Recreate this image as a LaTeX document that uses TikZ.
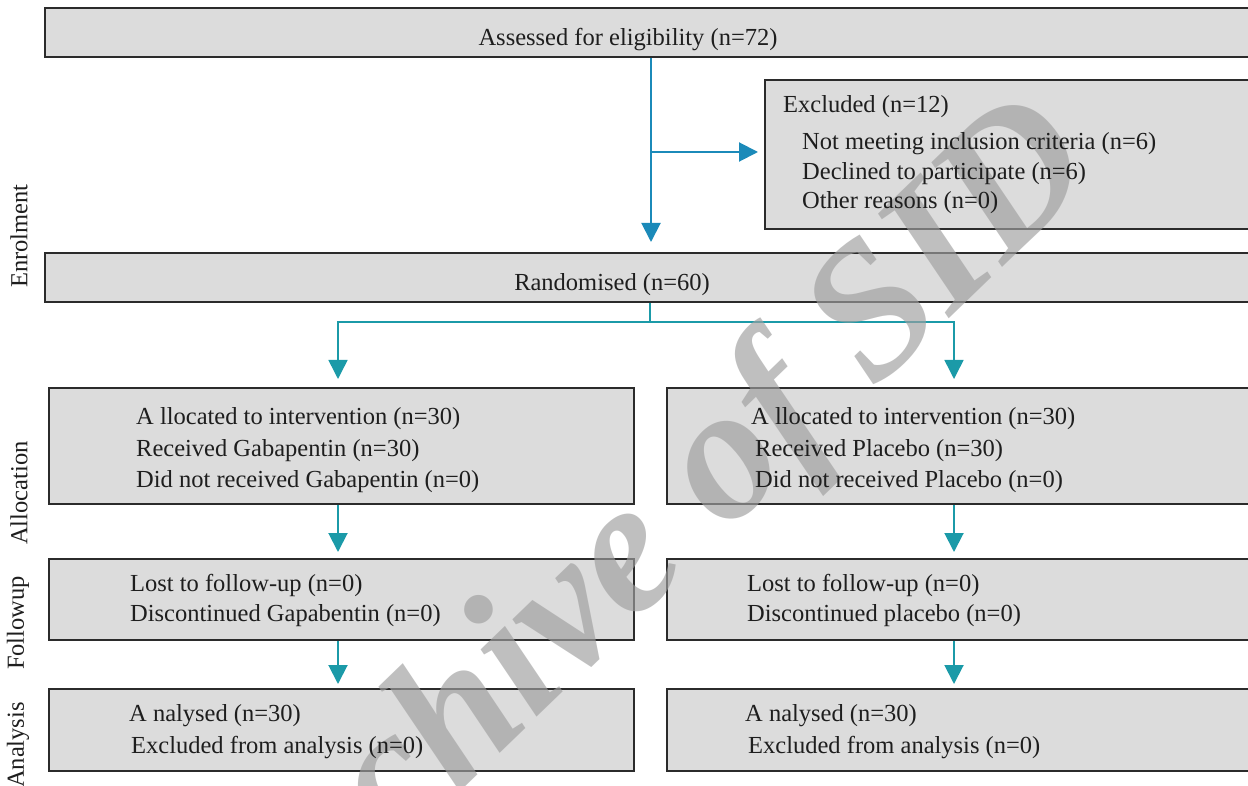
\documentclass[tikz,border=0pt]{standalone}
\usepackage{fontspec}
\setmainfont{Liberation Serif}
\usetikzlibrary{arrows.meta}
\definecolor{boxfill}{HTML}{DCDCDC}
\definecolor{boxline}{HTML}{2B2B2B}
\definecolor{flowblue}{HTML}{1B8AB9}
\definecolor{flowteal}{HTML}{1B9AA8}
\definecolor{wmarkgray}{HTML}{9F9F9F}
\definecolor{txtcol}{HTML}{1E1E1E}
\begin{document}
\begin{tikzpicture}[x=1pt,y=-1pt,
  box/.style={draw=boxline, line width=1.8pt, fill=boxfill, rectangle, inner sep=0pt, anchor=north west},
  txt/.style={anchor=west, inner sep=0pt, text=txtcol, font=\fontsize{24.5}{29}\selectfont, text height=0.69em, text depth=0.22em, yshift=-6pt},
  txtc/.style={txt, anchor=center},
  lbl/.style={anchor=center, inner sep=0pt, text=txtcol, font=\fontsize{24.5}{29}\selectfont, rotate=90},
  barr/.style={draw=flowblue, line width=2pt, -{Triangle[width=19pt,length=19pt]}},
  tarr/.style={draw=flowteal, line width=2pt, -{Triangle[width=19pt,length=19pt]}},
  tline/.style={draw=flowteal, line width=1.5pt},
  wm/.style={inner sep=0pt, text=wmarkgray, opacity=0.66, font=\fontsize{190}{190}\bfseries\itshape}
]
\useasboundingbox (0,0) rectangle (1248,786);
\clip (0,0) rectangle (1248,786);
\fill[white] (0,0) rectangle (1248,786);

% boxes
\node[box, minimum width=1226pt, minimum height=49pt] (assess) at (44,7) {};
\node[box, minimum width=506pt, minimum height=149pt] (excl) at (764,79) {};
\node[box, minimum width=1226pt, minimum height=49pt] (random) at (44,252) {};
\node[box, minimum width=585pt, minimum height=116pt] (allocL) at (48,387) {};
\node[box, minimum width=604pt, minimum height=116pt] (allocR) at (666,387) {};
\node[box, minimum width=585pt, minimum height=81pt] (followL) at (48,558) {};
\node[box, minimum width=604pt, minimum height=81pt] (followR) at (666,558) {};
\node[box, minimum width=585pt, minimum height=82pt] (analL) at (48,688) {};
\node[box, minimum width=604pt, minimum height=82pt] (analR) at (666,688) {};

% connectors
\coordinate (bj) at (651,152);
\coordinate (sp) at (650,322);
\coordinate (colL) at (338,0);
\coordinate (colR) at (954,0);
\draw[barr] (assess.south -| bj) -- ([yshift=10pt]random.north -| bj);
\draw[barr] (bj) -- ([xshift=-6pt]excl.west |- bj);
\draw[tline] (random.south -| sp) -- (sp);
\draw[tarr, line width=1.5pt] (sp) -| ([yshift=8pt]allocL.north -| colL);
\draw[tarr, line width=1.5pt] (sp) -| ([yshift=8pt]allocR.north -| colR);
\draw[tarr] (allocL.south -| colL) -- ([yshift=6pt]followL.north -| colL);
\draw[tarr] (allocR.south -| colR) -- ([yshift=6pt]followR.north -| colR);
\draw[tarr] (followL.south -| colL) -- ([yshift=4pt]analL.north -| colL);
\draw[tarr] (followR.south -| colR) -- ([yshift=4pt]analR.north -| colR);

% watermark
\node[wm, rotate=44] (wmark) at (645,548) {Archive of SID};

% texts
\node[txtc] (tassess) at (628,37) {Assessed for eligibility (n=72)};
\node[txt] (texcl) at (783,104) {Excluded (n=12)};
\node[txt] (texcla) at (802,141) {Not meeting inclusion criteria (n=6)};
\node[txt] (texclb) at (802,171) {Declined to participate (n=6)};
\node[txt] (texclc) at (802,200) {Other reasons (n=0)};
\node[txtc] (trandom) at (612,282) {Randomised (n=60)};

\node[txt] (tala) at (136,416) {A llocated to intervention (n=30)};
\node[txt] (talb) at (136,448) {Received Gabapentin (n=30)};
\node[txt] (talc) at (136,479) {Did not received Gabapentin (n=0)};
\node[txt] (tara) at (751,416) {A llocated to intervention (n=30)};
\node[txt] (tarb) at (755,448) {Received Placebo (n=30)};
\node[txt] (tarc) at (755,479) {Did not received Placebo (n=0)};

\node[txt] (tfla) at (130,583) {Lost to follow-up (n=0)};
\node[txt] (tflb) at (130,613) {Discontinued Gapabentin (n=0)};
\node[txt] (tfra) at (747,583) {Lost to follow-up (n=0)};
\node[txt] (tfrb) at (747,613) {Discontinued placebo (n=0)};

\node[txt] (tanla) at (129,713) {A nalysed (n=30)};
\node[txt] (tanlb) at (131,745) {Excluded from analysis (n=0)};
\node[txt] (tanra) at (745,713) {A nalysed (n=30)};
\node[txt] (tanrb) at (748,745) {Excluded from analysis (n=0)};

% side labels
\node[lbl] (lenrol) at (19,236) {Enrolment};
\node[lbl] (lalloc) at (19,493) {Allocation};
\node[lbl] (lfollow) at (18,623) {Followup};
\node[lbl] (lanal) at (18,745) {Analysis};
\end{tikzpicture}
\end{document}
